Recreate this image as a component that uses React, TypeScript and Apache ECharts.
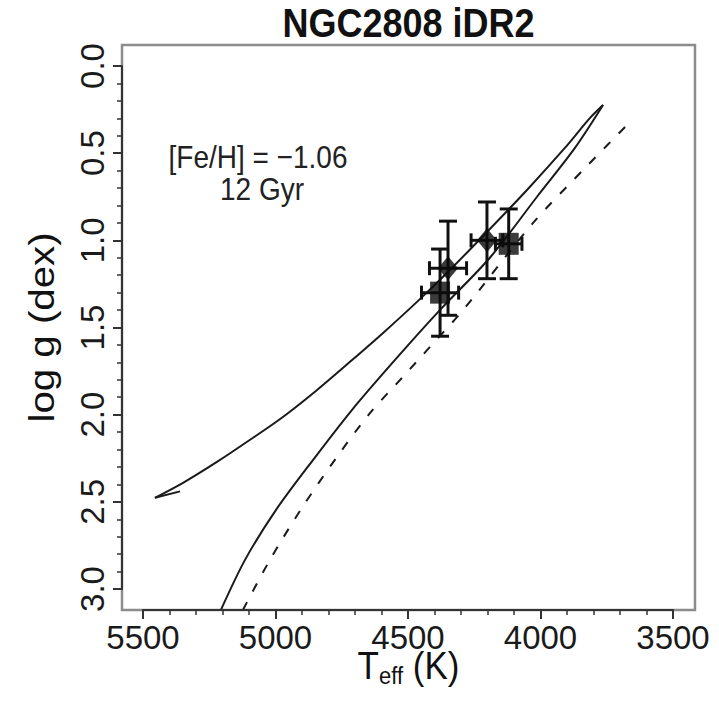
import React, { useEffect, useRef } from "react";
import * as echarts from "echarts";

// Isochrone (12 Gyr, [Fe/H] = -1.06): HB hook, AGB branch, RGB branch
const isoHookTeff = [5455, 5360];
const isoHookLogg = [2.477, 2.44];
const isoAgbTeff = [5455, 5349, 5221, 5096, 4972, 4843, 4719, 4594, 4466, 4342, 4202, 4051, 3908, 3813, 3764];
const isoAgbLogg = [2.477, 2.391, 2.271, 2.144, 2.013, 1.858, 1.697, 1.531, 1.353, 1.17, 0.952, 0.711, 0.47, 0.298, 0.224];
const isoRgbTeff = [5206, 5115, 4998, 4858, 4711, 4549, 4379, 4191, 4013, 3870, 3764];
const isoRgbLogg = [3.12, 2.833, 2.546, 2.259, 1.972, 1.686, 1.399, 1.1, 0.75, 0.47, 0.224];
// Dashed reference line
const dashTeff = [5123, 5021, 4900, 4768, 4643, 4519, 4417, 4292, 4028, 3821, 3655];
const dashLogg = [3.12, 2.833, 2.534, 2.242, 1.99, 1.783, 1.611, 1.4, 0.9, 0.568, 0.31];
// Stars with error bars
const starTeff = [4349, 4379, 4202, 4120];
const starLogg = [1.16, 1.3, 1.0, 1.02];
const starTeffErr = [70, 70, 60, 50];
const starLoggErr = [0.27, 0.25, 0.22, 0.2];
const starSymbol = ["diamond", "rect", "diamond", "rect"];

const xTicks = [3500, 4000, 4500, 5000, 5500];
const yTicks = [0, 0.5, 1, 1.5, 2, 2.5, 3];

const FONT = "Liberation Sans";
const INK = "#1a1a1a";

export default function App() {
  const ref = useRef<HTMLDivElement>(null);
  useEffect(() => {
    const chart = echarts.init(ref.current!, null, { renderer: "svg" });
    const boxL = 122, boxR = 695, boxT = 45, boxB = 610;
    const gL = 143, gR = 673, gT = 66, gB = 589;
    const zip = (a: number[], b: number[]) => a.map((v, i) => [v, b[i]]);
    const lineSeries = (data: number[][], dashed = false, smooth: number | boolean = 0.3) => ({
      type: "line",
      data,
      showSymbol: false,
      smooth,
      clip: false,
      lineStyle: { color: INK, width: 2, type: dashed ? [9, 12] : "solid" },
      z: 2,
    });
    chart.setOption({
      animation: false,
      backgroundColor: "#ffffff",
      grid: { left: gL, right: 719 - gR, top: gT, bottom: 701 - gB, outerBoundsMode: "none" },
      xAxis: {
        type: "value",
        min: xTicks[0],
        max: xTicks[xTicks.length - 1],
        interval: 500,
        inverse: true,
        position: "bottom",
        offset: boxB - gB,
        z: 3,
        axisLine: { show: true, onZero: false, lineStyle: { color: "#333", width: 2 } },
        axisTick: { show: true, length: 9, lineStyle: { color: "#333", width: 2 } },
        minorTick: { show: true, splitNumber: 5, length: 5, lineStyle: { color: "#333", width: 1.5 } },
        splitLine: { show: false },
        axisLabel: {
          fontSize: 33,
          color: INK,
          margin: 11,
          fontFamily: FONT,
          formatter: (v: number) => String(v),
        },
      },
      yAxis: {
        type: "value",
        min: yTicks[0],
        max: yTicks[yTicks.length - 1],
        interval: 0.5,
        inverse: true,
        position: "left",
        offset: gL - boxL,
        z: 3,
        axisLine: { show: true, onZero: false, lineStyle: { color: "#333", width: 2 } },
        axisTick: { show: true, length: 9, lineStyle: { color: "#333", width: 2 } },
        minorTick: { show: true, splitNumber: 5, length: 5, lineStyle: { color: "#333", width: 1.5 } },
        splitLine: { show: false },
        axisLabel: {
          fontSize: 33,
          color: INK,
          margin: 13,
          rotate: 90,
          fontFamily: FONT,
          formatter: (v: number) => v.toFixed(1),
        },
      },
      graphic: [
        {
          type: "rect",
          z: 0,
          shape: { x: boxL, y: boxT, width: boxR - boxL, height: boxB - boxT },
          style: { fill: "none", stroke: "#8c8c8c", lineWidth: 2.5 },
        },
        {
          type: "text",
          x: (boxL + boxR) / 2,
          y: 23,
          scaleY: 1.15,
          style: {
            text: "NGC2808 iDR2",
            fontSize: 36,
            fontWeight: "bold",
            fontFamily: FONT,
            fill: "#111",
            textAlign: "center",
            textVerticalAlign: "middle",
          },
        },
        {
          type: "text",
          x: 258,
          y: 157,
          scaleY: 1.15,
          style: {
            text: "[Fe/H] = \u22121.06",
            fontSize: 28,
            fontFamily: FONT,
            fill: "#222",
            textAlign: "center",
            textVerticalAlign: "middle",
          },
        },
        {
          type: "text",
          x: 262,
          y: 189,
          scaleY: 1.15,
          style: {
            text: "12 Gyr",
            fontSize: 28,
            fontFamily: FONT,
            fill: "#222",
            textAlign: "center",
            textVerticalAlign: "middle",
          },
        },
        {
          type: "text",
          x: 42,
          y: (gT + gB) / 2,
          rotation: Math.PI / 2,
          scaleX: 1.15,
          style: {
            text: "log g (dex)",
            fontSize: 35,
            fontFamily: FONT,
            fill: "#111",
            textAlign: "center",
            textVerticalAlign: "middle",
          },
        },
        {
          type: "text",
          x: (boxL + boxR) / 2,
          y: 665,
          scaleY: 1.12,
          style: {
            text: "{a|T}{b|eff}{a| (K)}",
            fontFamily: FONT,
            fill: "#111",
            textAlign: "center",
            textVerticalAlign: "middle",
            rich: {
              a: { fontSize: 35, fontFamily: FONT, fill: "#111", lineHeight: 40 },
              b: { fontSize: 22, fontFamily: FONT, fill: "#111", lineHeight: 22, verticalAlign: "bottom" },
            },
          },
        },
      ],
      series: [
        lineSeries(zip(isoHookTeff, isoHookLogg), false, false),
        lineSeries(zip(isoAgbTeff, isoAgbLogg)),
        lineSeries(zip(isoRgbTeff, isoRgbLogg)),
        lineSeries(zip(dashTeff, dashLogg), true),
        {
          type: "custom",
          z: 3,
          data: starTeff.map((t, i) => [t, starLogg[i], starTeffErr[i], starLoggErr[i]]),
          encode: { x: 0, y: 1 },
          renderItem: (_p: any, api: any) => {
            const t = api.value(0), g = api.value(1), dt = api.value(2), dg = api.value(3);
            const top = api.coord([t, g - dg]);
            const bot = api.coord([t, g + dg]);
            const lft = api.coord([t + dt, g]);
            const rgt = api.coord([t - dt, g]);
            const cv = 9, ch = 7;
            const style = { stroke: "#111", lineWidth: 3, fill: "none" };
            const ln = (x1: number, y1: number, x2: number, y2: number) => ({
              type: "line",
              shape: { x1, y1, x2, y2 },
              style,
            });
            return {
              type: "group",
              children: [
                ln(top[0], top[1], bot[0], bot[1]),
                ln(top[0] - cv, top[1], top[0] + cv, top[1]),
                ln(bot[0] - cv, bot[1], bot[0] + cv, bot[1]),
                ln(lft[0], lft[1], rgt[0], rgt[1]),
                ln(lft[0], lft[1] - ch, lft[0], lft[1] + ch),
                ln(rgt[0], rgt[1] - ch, rgt[0], rgt[1] + ch),
              ],
            };
          },
        },
        {
          type: "scatter",
          z: 4,
          data: starTeff.map((t, i) => ({
            value: [t, starLogg[i]],
            symbol: starSymbol[i],
            symbolSize: starSymbol[i] === "diamond" ? [20, 24] : [20, 22],
          })),
          itemStyle: { color: "#0a0a0a" },
        },
      ],
    });
    return () => chart.dispose();
  }, []);
  return (
    <div
      ref={ref}
      style={{ position: "absolute", left: 0, top: 0, width: 719, height: 701, background: "#fff" }}
    />
  );
}
